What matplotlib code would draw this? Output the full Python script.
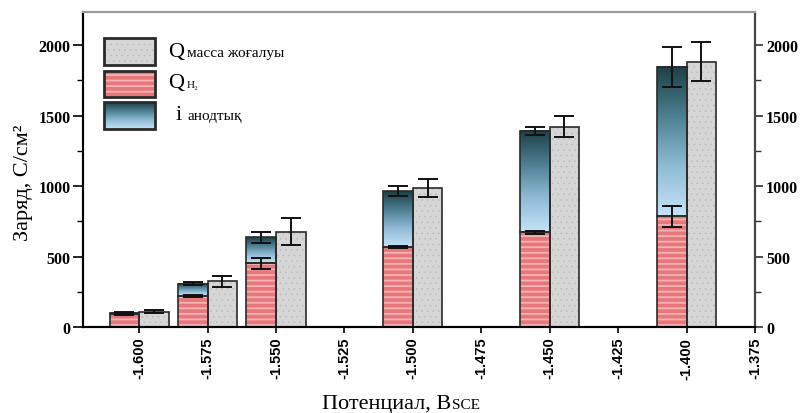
import numpy as np
import matplotlib
matplotlib.use("Agg")
import matplotlib.pyplot as plt
from matplotlib.patches import Rectangle
from matplotlib.colors import LinearSegmentedColormap
from matplotlib.ticker import MultipleLocator, FixedLocator

# Potential (V vs SCE) at which each pair of bars is measured
potentials = [-1.600, -1.575, -1.550, -1.500, -1.450, -1.400]
# Charge from hydrogen evolution, C/cm^2
q_h2 = [90, 222, 452, 567, 671, 785]
q_h2_err = [6, 8, 38, 8, 8, 73]
# Anodic current contribution stacked on top of Q_H2
i_anodic = [8, 86, 184, 395, 721, 1061]
stack_err = [6, 10, 38, 35, 30, 142]
# Charge equivalent of the mass loss
q_mass = [108, 324, 676, 986, 1420, 1882]
q_mass_err = [10, 38, 95, 62, 75, 140]

x_ticks = [-1.600, -1.575, -1.550, -1.525, -1.500, -1.475, -1.450, -1.425, -1.400, -1.375]
y_ticks = [0, 500, 1000, 1500, 2000]

SERIF = ["Liberation Serif", "DejaVu Serif"]
RED = "#E8777B"
RED_STRIPE = "#F5B3B5"
GRAY = "#D6D6D6"
DOTS = "#bababa"
EDGE = "#2a2a2a"
grad = LinearSegmentedColormap.from_list(
    "anodic", ["#C4E3F7", "#8FBBD6", "#4D7F92", "#1C3F45"])

fig = plt.figure(figsize=(8.02, 4.14), dpi=100)
ax = fig.add_axes([0.1035, 0.2077, 0.8379, 0.7609])

w = 0.0108
pos = np.array(potentials)
h2 = np.array(q_h2)
an = np.array(i_anodic)
top = h2 + an

# Q_H2 bars: striped fill, then dark outline
plt.rcParams["hatch.linewidth"] = 1.3
ax.bar(pos - w / 2, h2, width=w, color=RED, edgecolor=RED_STRIPE,
       hatch="---", linewidth=0, zorder=2)
ax.bar(pos - w / 2, h2, width=w, fill=False, edgecolor=EDGE,
       linewidth=1.2, zorder=4)

# Anodic current part with vertical gradient
ramp = np.linspace(0, 1, 256).reshape(-1, 1)
for xc, b, h in zip(pos - w / 2, h2, an):
    ax.imshow(ramp, cmap=grad, origin="lower", aspect="auto",
              extent=(xc - w / 2, xc + w / 2, b, b + h), zorder=2,
              interpolation="bilinear")
ax.bar(pos - w / 2, an, bottom=h2, width=w, fill=False, edgecolor=EDGE,
       linewidth=1.2, zorder=4)

# Mass loss bars with a fine dot texture
plt.rcParams["hatch.linewidth"] = 0.4
ax.bar(pos + w / 2, q_mass, width=w, color=GRAY, edgecolor=DOTS,
       hatch="...", linewidth=0, zorder=2)
ax.bar(pos + w / 2, q_mass, width=w, fill=False, edgecolor=EDGE,
       linewidth=1.2, zorder=4)

ekw = dict(fmt="none", ecolor="#111111", elinewidth=1.4, capsize=7,
           capthick=1.4, zorder=5)
ax.errorbar(pos - w / 2, h2, yerr=q_h2_err, **ekw)
ax.errorbar(pos - w / 2, top, yerr=stack_err, **ekw)
ax.errorbar(pos + w / 2, q_mass, yerr=q_mass_err, **ekw)

ax.set_xlim(-1.6205, -1.375)
ax.set_ylim(0, 2235)

ax.xaxis.set_major_locator(FixedLocator(x_ticks))
ax.set_xticklabels([f"{v:.3f}" for v in x_ticks], rotation=90,
                   fontfamily="Liberation Sans", fontweight="bold",
                   fontsize=10.5)
ax.tick_params(axis="x", direction="out", length=4, width=1.2, pad=3)

ax.yaxis.set_major_locator(FixedLocator(y_ticks))
ax.yaxis.set_minor_locator(MultipleLocator(250))
ax.set_yticklabels([str(v) for v in y_ticks], fontfamily=SERIF,
                   fontweight="bold", fontsize=11.5)
ax.tick_params(axis="y", which="major", direction="out", length=7,
               width=1.2, pad=2)
ax.tick_params(axis="y", which="minor", direction="out", length=4.5,
               width=1.0)

ax2 = ax.twinx()
ax2.set_ylim(ax.get_ylim())
ax2.yaxis.set_major_locator(FixedLocator(y_ticks))
ax2.yaxis.set_minor_locator(MultipleLocator(250))
ax2.set_yticklabels([str(v) for v in y_ticks], fontfamily=SERIF,
                    fontweight="bold", fontsize=11.5)
ax2.tick_params(axis="y", which="major", direction="out", length=6,
                width=1.2, pad=2, color="#333333")
ax2.tick_params(axis="y", which="minor", direction="out", length=4.5,
                width=1.0, color="#333333")

for a in (ax, ax2):
    a.spines["left"].set_linewidth(1.5)
    a.spines["bottom"].set_linewidth(1.5)
    a.spines["right"].set_linewidth(1.5)
    a.spines["right"].set_color("#444444")
    a.spines["top"].set_linewidth(1.5)
    a.spines["top"].set_color("#9a9a9a")

# Axis titles
fig.text(0.029, 0.558, "Заряд, С/см²", rotation=90, ha="center",
         va="center", fontfamily=SERIF, fontsize=16)
xl = fig.text(0.4015, 0.013, "Потенциал, В", ha="left", va="baseline",
              fontfamily=SERIF, fontsize=16)
fig.canvas.draw()
bb = xl.get_window_extent().transformed(fig.transFigure.inverted())
fig.text(bb.x1 + 0.001, 0.013, "SCE", ha="left", va="baseline",
         fontfamily=SERIF, fontsize=11)

# Legend drawn by hand
sw_x, sw_w = 0.0313, 0.0759
rows = [(0.832, 0.085), (0.730, 0.083), (0.629, 0.085)]
plt.rcParams["hatch.linewidth"] = 0.4
ax.add_patch(Rectangle((sw_x, rows[0][0]), sw_w, rows[0][1],
                       transform=ax.transAxes, facecolor=GRAY,
                       edgecolor=DOTS, hatch="...", linewidth=0,
                       zorder=6))
plt.rcParams["hatch.linewidth"] = 1.3
ax.add_patch(Rectangle((sw_x, rows[1][0]), sw_w, rows[1][1],
                       transform=ax.transAxes, facecolor=RED,
                       edgecolor=RED_STRIPE, hatch="---", linewidth=0,
                       zorder=6))
lax = ax.inset_axes([sw_x, rows[2][0], sw_w, rows[2][1]])
lax.imshow(ramp, cmap=grad, origin="lower", aspect="auto",
           interpolation="bilinear")
lax.set_axis_off()
for y0, hh in rows:
    ax.add_patch(Rectangle((sw_x, y0), sw_w, hh, transform=ax.transAxes,
                           fill=False, edgecolor=EDGE, linewidth=2.0,
                           zorder=7))

ax.text(0.1265, 0.860, "Q", transform=ax.transAxes, va="baseline",
        fontfamily=SERIF, fontsize=16)
ax.text(0.1548, 0.860, "масса жоғалуы", transform=ax.transAxes,
        va="baseline", fontfamily=SERIF, fontsize=11)
ax.text(0.1265, 0.762, "Q", transform=ax.transAxes, va="baseline",
        fontfamily=SERIF, fontsize=16)
ax.text(0.1548, 0.762, "H₂", transform=ax.transAxes, va="baseline",
        fontfamily=SERIF, fontsize=8)
ax.text(0.137, 0.660, "i", transform=ax.transAxes, va="baseline",
        fontfamily=SERIF, fontsize=16)
ax.text(0.1548, 0.660, "анодтық", transform=ax.transAxes, va="baseline",
        fontfamily=SERIF, fontsize=11)

fig.savefig("out.png", dpi=100)
